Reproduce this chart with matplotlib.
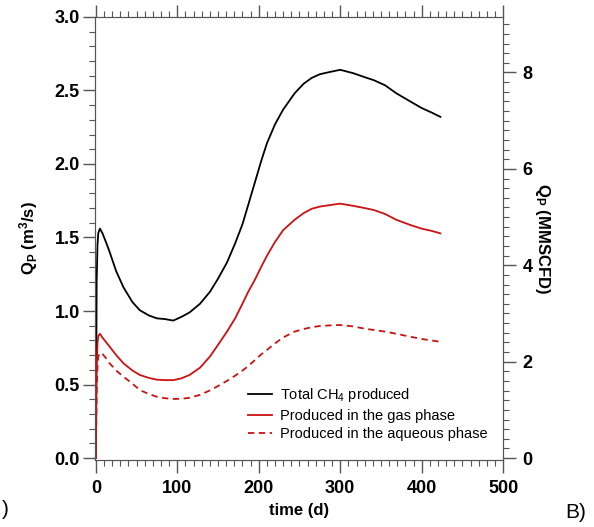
import numpy as np
import matplotlib
matplotlib.use('Agg')
import matplotlib.pyplot as plt
from matplotlib.ticker import MultipleLocator

plt.rcParams['font.family'] = ['Liberation Sans', 'DejaVu Sans']
plt.rcParams['mathtext.fontset'] = 'custom'
plt.rcParams['mathtext.rm'] = 'Liberation Sans'
plt.rcParams['mathtext.bf'] = 'Liberation Sans:bold'
plt.rcParams['mathtext.it'] = 'Liberation Sans:italic'

# time (d)
time_d = [0, 1, 2, 3, 5, 8, 13, 17, 25, 34, 45, 54, 65, 75, 85, 95, 105, 115,
          128, 140, 150, 161, 171, 180, 187, 195, 203, 210, 220, 230, 244, 255,
          265, 275, 287, 300, 316, 330, 341, 355, 369, 386, 400, 412, 423]

# Q_P (m3/s)
total_ch4 = [0.0, 1.2, 1.45, 1.53, 1.56, 1.53, 1.46, 1.40, 1.27, 1.16, 1.06, 1.005,
             0.97, 0.95, 0.945, 0.935, 0.96, 0.99, 1.05, 1.13, 1.22, 1.33, 1.46,
             1.59, 1.72, 1.87, 2.02, 2.14, 2.27, 2.37, 2.48, 2.545, 2.585, 2.61,
             2.625, 2.64, 2.617, 2.59, 2.57, 2.535, 2.48, 2.425, 2.38, 2.35, 2.32]
gas_phase = [0.0, 0.6, 0.78, 0.83, 0.845, 0.82, 0.785, 0.757, 0.70, 0.644, 0.595,
             0.565, 0.545, 0.533, 0.53, 0.53, 0.542, 0.565, 0.615, 0.69, 0.77,
             0.86, 0.95, 1.05, 1.13, 1.21, 1.30, 1.375, 1.47, 1.55, 1.62, 1.665,
             1.695, 1.71, 1.72, 1.73, 1.715, 1.70, 1.687, 1.66, 1.62, 1.585,
             1.56, 1.545, 1.528]
aqueous_phase = [0.0, 0.45, 0.62, 0.69, 0.715, 0.71, 0.675, 0.644, 0.595, 0.553,
                 0.505, 0.463, 0.435, 0.417, 0.407, 0.402, 0.403, 0.41, 0.43,
                 0.46, 0.49, 0.525, 0.56, 0.595, 0.625, 0.665, 0.705, 0.735,
                 0.78, 0.82, 0.86, 0.877, 0.89, 0.898, 0.902, 0.905, 0.895,
                 0.88, 0.871, 0.86, 0.845, 0.825, 0.81, 0.80, 0.79]

M3S_TO_MMSCFD = 35.3147 * 86400 / 1e6
red = '#cc1111'
spine_c = '#555555'

fig = plt.figure(figsize=(5.94, 5.27), dpi=100)
ax = fig.add_axes([0.160, 0.128, 0.687, 0.840])

ax.plot(time_d, total_ch4, color='black', lw=1.3, label='Total CH$_4$ produced')
ax.plot(time_d, gas_phase, color=red, lw=1.3, label='Produced in the gas phase')
ax.plot(time_d, aqueous_phase, color=red, lw=1.3, ls=(0, (3.5, 2.5)),
        label='Produced in the aqueous phase')

ax.set_xlim(-1, 500)
ax.set_ylim(-0.01, 3.0)
ax.xaxis.set_major_locator(MultipleLocator(100))
ax.xaxis.set_minor_locator(MultipleLocator(10))
ax.yaxis.set_major_locator(MultipleLocator(0.5))
ax.yaxis.set_minor_locator(MultipleLocator(0.1))
ax.yaxis.set_major_formatter(matplotlib.ticker.FormatStrFormatter('%.1f'))
ax.tick_params(which='both', direction='out', color=spine_c, top=True,
               labeltop=False, labelsize=13)
ax.tick_params(which='major', length=9, width=1)
ax.tick_params(which='minor', length=4.5, width=0.8)
ax.tick_params(axis='x', which='major', pad=6)
ax.tick_params(axis='y', which='major', pad=2)
for lab in ax.get_xticklabels() + ax.get_yticklabels():
    lab.set_fontweight('bold')
for s in ax.spines.values():
    s.set_color(spine_c)

ax.set_xlabel('time (d)', fontsize=12, fontweight='bold', labelpad=4)
ax.set_ylabel(r'Q$_\mathbf{P}$ (m$^\mathbf{3}$/s)', fontsize=12,
              fontweight='bold', labelpad=10)

ax2 = ax.twinx()
ax2.set_ylim(-0.01 * M3S_TO_MMSCFD, 3.0 * M3S_TO_MMSCFD)
ax2.yaxis.set_major_locator(MultipleLocator(2))
ax2.yaxis.set_minor_locator(MultipleLocator(0.2))
ax2.tick_params(which='both', direction='out', color=spine_c, labelsize=13)
ax2.tick_params(which='major', length=9, width=1, pad=5)
ax2.tick_params(which='minor', length=4.5, width=0.8)
for lab in ax2.get_yticklabels():
    lab.set_fontweight('bold')
for s in ax2.spines.values():
    s.set_color(spine_c)
ax2.set_ylabel(r'Q$_\mathbf{P}$ (MMSCFD)', fontsize=12, fontweight='bold',
               rotation=270, labelpad=14)

ax.legend(loc='lower right', bbox_to_anchor=(0.995, 0.012), frameon=False,
          fontsize=10.5, handlelength=1.6, handletextpad=0.6, labelspacing=0.3)

fig.text(0.003, 0.022, ')', fontsize=15, ha='left')
fig.text(0.951, 0.018, 'B)', fontsize=15, ha='left')

fig.savefig('out.png', dpi=100)
